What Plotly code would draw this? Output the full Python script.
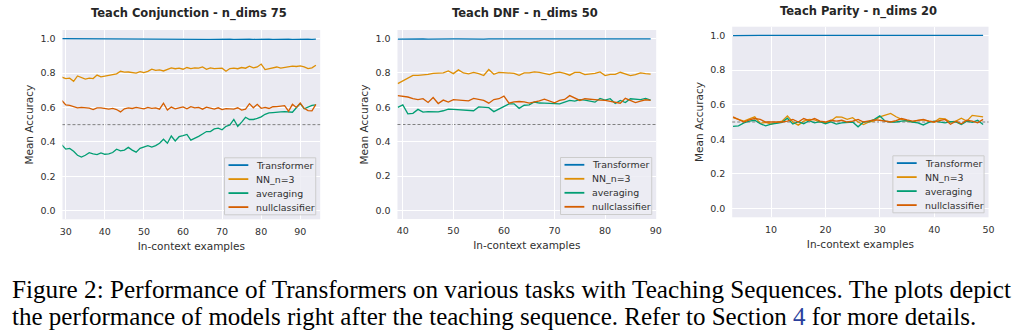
import plotly.graph_objects as go

W, H = 1021, 335

series_names = ["Transformer", "NN_n=3", "averaging", "nullclassifier"]
series_colors = ["#0173b2", "#de8f05", "#029e73", "#d55e00"]

# ---------------- Teach Conjunction - n_dims 75 ----------------
conj_x = list(range(29, 95))
conj_transformer = [
    1.000, 1.000, 1.000, 1.000, 0.996, 0.997, 0.996, 0.997, 0.997, 0.996,
    0.997, 0.997, 0.996, 0.997, 0.996, 0.996, 0.997, 0.997, 0.996, 0.997,
    0.997, 0.996, 0.997, 0.996, 0.997, 0.996, 0.997, 0.997, 0.996, 0.996,
    0.997, 0.997, 0.996, 0.997, 0.996, 0.997, 0.997, 0.996, 0.995, 0.996,
    0.997, 0.996, 0.997, 0.997, 0.996, 0.997, 0.996, 0.997, 0.997, 0.996,
    0.997, 0.996, 0.997, 0.997, 0.996, 0.997, 0.996, 0.997, 0.997, 0.996,
    0.997, 0.997, 0.996, 0.997, 0.996, 0.997]
conj_nn = [
    0.776, 0.768, 0.770, 0.752, 0.783, 0.775, 0.765, 0.770, 0.768, 0.788,
    0.778, 0.782, 0.785, 0.792, 0.795, 0.810, 0.805, 0.806, 0.803, 0.800,
    0.808, 0.802, 0.810, 0.822, 0.815, 0.818, 0.812, 0.820, 0.830, 0.825,
    0.828, 0.822, 0.832, 0.826, 0.830, 0.828, 0.835, 0.822, 0.830, 0.826,
    0.827, 0.828, 0.810, 0.826, 0.828, 0.825, 0.832, 0.828, 0.840, 0.830,
    0.835, 0.852, 0.820, 0.825, 0.830, 0.835, 0.828, 0.832, 0.836, 0.840,
    0.838, 0.841, 0.836, 0.826, 0.830, 0.845]
conj_avg = [
    0.382, 0.358, 0.362, 0.345, 0.322, 0.312, 0.322, 0.337, 0.330, 0.326,
    0.336, 0.328, 0.330, 0.338, 0.357, 0.348, 0.352, 0.368, 0.352, 0.340,
    0.362, 0.372, 0.378, 0.370, 0.378, 0.392, 0.415, 0.392, 0.434, 0.405,
    0.430, 0.436, 0.443, 0.410, 0.420, 0.432, 0.446, 0.460, 0.460, 0.475,
    0.480, 0.470, 0.490, 0.498, 0.530, 0.490, 0.515, 0.543, 0.530, 0.530,
    0.536, 0.545, 0.560, 0.568, 0.570, 0.574, 0.574, 0.576, 0.575, 0.572,
    0.598, 0.622, 0.592, 0.600, 0.612, 0.615]
conj_null = [
    0.640, 0.615, 0.612, 0.605, 0.598, 0.600, 0.597, 0.596, 0.588, 0.598,
    0.598, 0.596, 0.590, 0.594, 0.588, 0.574, 0.592, 0.598, 0.594, 0.600,
    0.596, 0.592, 0.600, 0.595, 0.598, 0.590, 0.625, 0.585, 0.602, 0.592,
    0.598, 0.603, 0.592, 0.605, 0.598, 0.600, 0.590, 0.602, 0.596, 0.590,
    0.598, 0.588, 0.593, 0.590, 0.590, 0.598, 0.585, 0.590, 0.622, 0.598,
    0.618, 0.595, 0.600, 0.594, 0.604, 0.605, 0.608, 0.610, 0.578, 0.618,
    0.600, 0.625, 0.595, 0.582, 0.580, 0.618]

# ---------------- Teach DNF - n_dims 50 ----------------
dnf_x = list(range(39, 90))
dnf_transformer = [
    0.997, 0.998, 0.998, 0.997, 0.998, 0.998, 0.997, 0.998, 0.998, 0.998,
    0.997, 0.998, 0.998, 0.997, 0.998, 0.998, 0.998, 0.997, 0.998, 0.998,
    0.998, 0.997, 0.998, 0.998, 0.997, 0.998, 0.998, 0.998, 0.997, 0.998,
    0.998, 0.997, 0.998, 0.998, 0.998, 0.997, 0.998, 0.998, 0.997, 0.998,
    0.998, 0.998, 0.997, 0.998, 0.998, 0.997, 0.998, 0.998, 0.998, 0.997,
    0.998]
dnf_nn = [
    0.738, 0.755, 0.772, 0.786, 0.786, 0.788, 0.792, 0.797, 0.800, 0.800,
    0.812, 0.796, 0.818, 0.800, 0.795, 0.803, 0.796, 0.785, 0.820, 0.792,
    0.803, 0.800, 0.798, 0.798, 0.786, 0.800, 0.800, 0.806, 0.803, 0.797,
    0.790, 0.800, 0.805, 0.797, 0.787, 0.803, 0.803, 0.790, 0.792, 0.797,
    0.806, 0.785, 0.792, 0.792, 0.804, 0.795, 0.785, 0.790, 0.800, 0.796,
    0.793]
dnf_avg = [
    0.600, 0.614, 0.562, 0.565, 0.588, 0.572, 0.575, 0.576, 0.574, 0.580,
    0.590, 0.588, 0.586, 0.585, 0.584, 0.580, 0.602, 0.600, 0.598, 0.575,
    0.590, 0.605, 0.620, 0.620, 0.594, 0.612, 0.614, 0.631, 0.625, 0.624,
    0.623, 0.618, 0.620, 0.630, 0.640, 0.636, 0.645, 0.642, 0.638, 0.630,
    0.652, 0.642, 0.650, 0.622, 0.640, 0.628, 0.650, 0.648, 0.645, 0.652,
    0.642]
dnf_null = [
    0.668, 0.665, 0.660, 0.650, 0.645, 0.650, 0.628, 0.657, 0.622, 0.642,
    0.630, 0.645, 0.644, 0.640, 0.638, 0.652, 0.645, 0.640, 0.624, 0.645,
    0.650, 0.665, 0.624, 0.632, 0.634, 0.632, 0.624, 0.630, 0.638, 0.648,
    0.636, 0.626, 0.640, 0.646, 0.668, 0.655, 0.640, 0.650, 0.646, 0.645,
    0.642, 0.640, 0.636, 0.630, 0.624, 0.652, 0.640, 0.628, 0.636, 0.644,
    0.640]

# ---------------- Teach Parity - n_dims 20 ----------------
par_x = list(range(3, 50))
par_transformer = [
    0.999, 1.000, 1.000, 1.000, 1.000, 1.000, 1.000, 1.000, 1.000, 1.000,
    1.000, 1.000, 1.000, 1.000, 1.000, 1.000, 1.000, 1.000, 1.000, 1.000,
    0.999, 1.000, 1.000, 1.000, 1.000, 1.000, 1.000, 1.000, 1.000, 1.000,
    1.000, 1.000, 1.000, 1.000, 1.000, 1.000, 1.000, 1.000, 1.000, 1.000,
    1.000, 1.000, 1.000, 1.000, 1.000, 1.000, 1.000]
par_nn = [
    0.525, 0.515, 0.505, 0.518, 0.530, 0.492, 0.498, 0.488, 0.497, 0.505,
    0.535, 0.500, 0.482, 0.505, 0.515, 0.512, 0.500, 0.495, 0.505, 0.530,
    0.528, 0.515, 0.525, 0.500, 0.485, 0.500, 0.506, 0.530, 0.540, 0.550,
    0.530, 0.515, 0.505, 0.500, 0.510, 0.512, 0.505, 0.500, 0.520, 0.518,
    0.500, 0.505, 0.522, 0.505, 0.538, 0.532, 0.530]
par_avg = [
    0.475, 0.478, 0.495, 0.505, 0.510, 0.490, 0.478, 0.488, 0.492, 0.498,
    0.522, 0.488, 0.502, 0.490, 0.508, 0.495, 0.502, 0.490, 0.500, 0.488,
    0.495, 0.498, 0.500, 0.472, 0.500, 0.502, 0.515, 0.535, 0.505, 0.500,
    0.500, 0.505, 0.508, 0.500, 0.495, 0.483, 0.498, 0.505, 0.500, 0.495,
    0.502, 0.500, 0.485, 0.505, 0.498, 0.510, 0.485]
par_null = [
    0.530, 0.515, 0.500, 0.512, 0.520, 0.515, 0.500, 0.500, 0.498, 0.500,
    0.505, 0.515, 0.500, 0.520, 0.508, 0.520, 0.505, 0.500, 0.510, 0.505,
    0.510, 0.500, 0.505, 0.515, 0.500, 0.505, 0.512, 0.510, 0.505, 0.500,
    0.508, 0.520, 0.512, 0.505, 0.510, 0.515, 0.505, 0.500, 0.508, 0.515,
    0.487, 0.505, 0.490, 0.510, 0.505, 0.495, 0.515]

baseline = 0.5
y_ticks = [0.0, 0.2, 0.4, 0.6, 0.8, 1.0]

panels = [
    dict(title="Teach Conjunction - n_dims 75", x=conj_x,
         ys=[conj_transformer, conj_nn, conj_avg, conj_null],
         xrange=[29.15, 95.1], xticks=[30, 40, 50, 60, 70, 80, 90],
         box=(60, 320, 30, 219.3), title_dy=16),
    dict(title="Teach DNF - n_dims 50", x=dnf_x,
         ys=[dnf_transformer, dnf_nn, dnf_avg, dnf_null],
         xrange=[38.95, 90.1], xticks=[40, 50, 60, 70, 80, 90],
         box=(398, 659, 30, 219.0), title_dy=16),
    dict(title="Teach Parity - n_dims 20", x=par_x,
         ys=[par_transformer, par_nn, par_avg, par_null],
         xrange=[2.85, 50.0], xticks=[10, 20, 30, 40, 50],
         box=(735.7, 994.3, 26.7, 217.3), title_dy=15),
]

TXT = "#303030"
FONT = "DejaVu Sans"

fig = go.Figure()
layout = dict(
    width=W, height=H, margin=dict(l=0, r=0, t=0, b=0),
    paper_bgcolor="white", plot_bgcolor="#EAEAF2", showlegend=False,
    font=dict(family=FONT, color=TXT),
)
shapes = []
annotations = []


def fx(p):
    return p / W


def fy(p):
    return 1 - p / H


for i, p in enumerate(panels, start=1):
    sfx = "" if i == 1 else str(i)
    xa, ya = "x" + sfx, "y" + sfx
    l, r, t, b = p["box"]
    for name, color, yv in zip(series_names, series_colors, p["ys"]):
        fig.add_trace(go.Scatter(
            x=p["x"], y=yv, mode="lines", name=name,
            line=dict(color=color, width=1.3),
            xaxis=xa, yaxis=ya, showlegend=False))
    layout["xaxis" + sfx] = dict(
        domain=[fx(l), fx(r)], range=p["xrange"], anchor=ya,
        tickvals=p["xticks"], showgrid=True, gridcolor="white", gridwidth=1,
        zeroline=False, showline=False, ticks="outside", ticklen=3,
        tickcolor="rgba(0,0,0,0)", tickfont=dict(size=9.5, color=TXT),
        title=dict(text="In-context examples", font=dict(size=10.5, color=TXT),
                   standoff=6))
    layout["yaxis" + sfx] = dict(
        domain=[fy(b), fy(t)], range=[-0.05, 1.05], anchor=xa,
        tickvals=y_ticks, ticktext=["%.1f" % v for v in y_ticks],
        showgrid=True, gridcolor="white", gridwidth=1,
        zeroline=False, showline=False, ticks="outside", ticklen=4,
        tickcolor="rgba(0,0,0,0)", tickfont=dict(size=9.5, color=TXT),
        title=dict(text="Mean Accuracy", font=dict(size=10.5, color=TXT),
                   standoff=4))
    # chance-level dashed reference
    shapes.append(dict(type="line", xref=xa + " domain", yref=ya,
                       x0=0, x1=1, y0=baseline, y1=baseline, layer="below",
                       line=dict(color="#808080", width=1, dash="3px,2px")))
    # title
    annotations.append(dict(text=p["title"], xref="paper", yref="paper",
                            x=fx((l + r) / 2 - 2), y=fy(t - p["title_dy"]),
                            xanchor="center", yanchor="middle", showarrow=False,
                            font=dict(family=FONT, size=11.5, color="#262626",
                                      weight="bold")))
    # legend box
    bx1, by1 = r - 4.5, b - 4.5
    bx0, by0 = bx1 - 92, by1 - 57
    shapes.append(dict(type="rect", xref="paper", yref="paper",
                       x0=fx(bx0), x1=fx(bx1), y0=fy(by1), y1=fy(by0),
                       layer="above", fillcolor="rgba(236,236,243,0.85)",
                       line=dict(color="#cccccc", width=1)))
    for k, (name, color) in enumerate(zip(series_names, series_colors)):
        ry = by0 + 7.3 + 14 * k
        shapes.append(dict(type="line", xref="paper", yref="paper",
                           x0=fx(bx0 + 4), x1=fx(bx0 + 24), y0=fy(ry), y1=fy(ry),
                           layer="above", line=dict(color=color, width=1.8)))
        annotations.append(dict(text=name, xref="paper", yref="paper",
                                x=fx(bx0 + 30), y=fy(ry), xanchor="left",
                                yanchor="middle", showarrow=False,
                                font=dict(family=FONT, size=9.4, color=TXT)))

caption1 = ("Figure 2: Performance of Transformers on various tasks with "
            "Teaching Sequences. The plots depict")
caption2 = ("the performance of models right after the teaching sequence. "
            "Refer to Section <span style=\"color:#2a3f9c\">4</span> "
            "for more details.")
for txt, yc, sz in [(caption1, 289.5, 25.2), (caption2, 316.5, 25)]:
    annotations.append(dict(text=txt, xref="paper", yref="paper",
                            x=fx(7), y=fy(yc), xanchor="left", yanchor="middle",
                            showarrow=False,
                            font=dict(family="Liberation Serif", size=sz,
                                      color="black")))

layout["shapes"] = shapes
layout["annotations"] = annotations
fig.update_layout(**layout)
fig.write_html("out.html")
